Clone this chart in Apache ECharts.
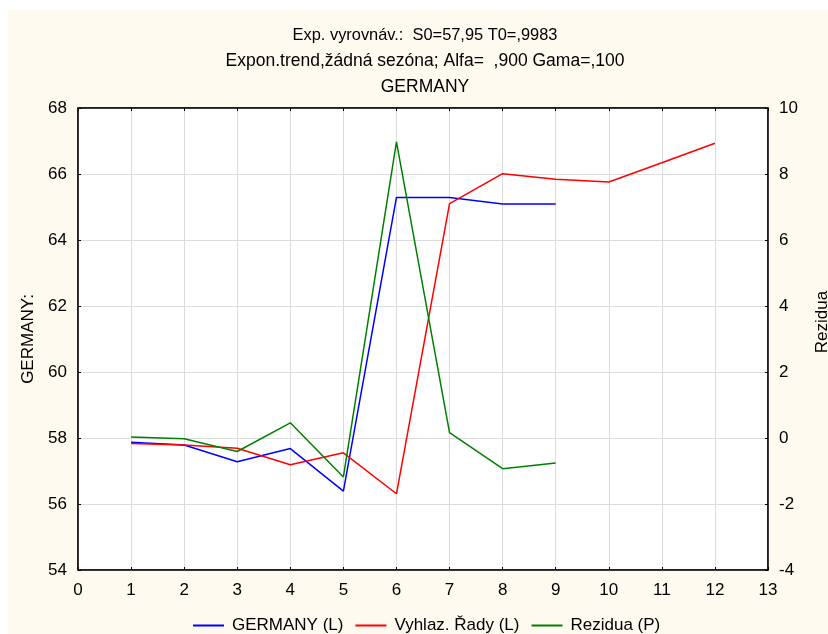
<!DOCTYPE html>
<html><head><meta charset="utf-8">
<script src="https://cdn.jsdelivr.net/npm/echarts@6/dist/echarts.min.js"></script>
<style>
html,body{margin:0;padding:0;background:#fff;}
#wrap{position:relative;width:828px;height:634px;background:#fff;}
#cream{position:absolute;left:8px;top:10px;width:820px;height:624px;background:#fefaf0;}
#chart{position:absolute;left:0;top:0;width:828px;height:634px;}
</style></head>
<body>
<div id="wrap"><div id="cream"></div><div id="chart"></div></div>
<script>
const xGermany = [1,2,3,4,5,6,7,8,9];
const germany = [57.87,57.79,57.28,57.68,56.39,65.29,65.29,65.09,65.09];
const xSmoothed = [1,2,3,4,5,6,7,8,9,10,11,12];
const smoothed = [57.83,57.79,57.69,57.19,57.55,56.31,65.10,66.01,65.84,65.76,66.34,66.93];
const xResid = [1,2,3,4,5,6,7,8,9];
const residuals = [0.03,-0.02,-0.41,0.46,-1.18,8.97,0.16,-0.93,-0.76];
const seriesNames = ['GERMANY (L)','Vyhlaz. Řady (L)','Rezidua (P)'];
const titleLines = ['Exp. vyrovnáv.:  S0=57,95 T0=,9983','Expon.trend,žádná sezóna; Alfa=  ,900 Gama=,100','GERMANY'];

const pairs = (xs, ys) => xs.map((x,i)=>[x, ys[i]]);
const font = 'Liberation Sans, Arial, sans-serif';
const FS = 17;
const chart = echarts.init(document.getElementById('chart'), null, {renderer:'canvas'});
const lineStyleBase = {width:1.5};
chart.setOption({
  backgroundColor: 'transparent',
  animation: false,
  title: {
    text: '{a|' + titleLines[0] + '}\n{b|' + titleLines[1] + '}\n{c|' + titleLines[2] + '}',
    left: 420, textAlign: 'center', top: 18,
    textStyle: {fontFamily: font, fontSize: 16.5, fontWeight: 'normal', color: '#000', lineHeight: 25.5,
      rich: {
        a: {fontFamily: font, fontSize: 16.4, color: '#000', lineHeight: 25.5},
        b: {fontFamily: font, fontSize: 17.5, color: '#000', lineHeight: 25.5},
        c: {fontFamily: font, fontSize: 17.5, color: '#000', lineHeight: 25.5}
      }}
  },
  grid: {left: 78, right: 60, top: 108, bottom: 64, show: true, backgroundColor: '#fff', borderColor: '#000', borderWidth: 1, outerBoundsMode: 'none', containLabel: false},
  legend: {
    top: 612, left: 188, itemWidth: 31, itemHeight: 2, itemGap: 12, icon: 'rect',
    textStyle: {fontFamily: font, fontSize: FS, color: '#000', padding: [0,0,0,3]},
    data: seriesNames
  },
  xAxis: [{
    type: 'value', min: 0, max: 13, interval: 1, position: 'bottom',
    axisLine: {show: true, onZero: false, lineStyle: {color: '#000', width: 1.5}},
    axisTick: {show: true, inside: true, length: 3, lineStyle: {color: '#000'}},
    axisLabel: {fontFamily: font, fontSize: FS, color: '#000', margin: 12},
    splitLine: {show: true, lineStyle: {color: '#dcdcdc', width: 1}}
  },{
    type: 'value', min: 0, max: 13, interval: 1, position: 'top',
    axisLine: {show: true, onZero: false, lineStyle: {color: '#000', width: 1.5}},
    axisTick: {show: true, inside: true, length: 3, lineStyle: {color: '#000'}},
    axisLabel: {show: false}, splitLine: {show: false}
  }],
  yAxis: [{
    type: 'value', min: 54, max: 68, interval: 2, position: 'left',
    name: 'GERMANY:', nameLocation: 'middle', nameGap: 40, nameRotate: 90,
    nameTextStyle: {fontFamily: font, fontSize: FS, color: '#000'},
    axisLine: {show: true, onZero: false, lineStyle: {color: '#000', width: 1.5}},
    axisTick: {show: true, inside: true, length: 3, lineStyle: {color: '#000'}},
    axisLabel: {fontFamily: font, fontSize: FS, color: '#000', margin: 11},
    splitLine: {show: true, lineStyle: {color: '#dcdcdc', width: 1}}
  },{
    type: 'value', min: -4, max: 10, interval: 2, position: 'right',
    name: 'Rezidua', nameLocation: 'middle', nameGap: 46, nameRotate: 90,
    nameTextStyle: {fontFamily: font, fontSize: FS, color: '#000', padding: [0,0,40,34]},
    axisLine: {show: true, onZero: false, lineStyle: {color: '#000', width: 1.5}},
    axisTick: {show: true, inside: true, length: 3, lineStyle: {color: '#000'}},
    axisLabel: {fontFamily: font, fontSize: FS, color: '#000', margin: 11},
    splitLine: {show: false}
  }],
  series: [
    {name: seriesNames[0], type: 'line', xAxisIndex: 0, yAxisIndex: 0, data: pairs(xGermany, germany),
     showSymbol: false, symbol: 'none', color: '#0000ff', lineStyle: Object.assign({}, lineStyleBase, {color: '#0000ff'})},
    {name: seriesNames[1], type: 'line', xAxisIndex: 0, yAxisIndex: 0, data: pairs(xSmoothed, smoothed),
     showSymbol: false, symbol: 'none', color: '#ff0000', lineStyle: Object.assign({}, lineStyleBase, {color: '#ff0000'})},
    {name: seriesNames[2], type: 'line', xAxisIndex: 0, yAxisIndex: 1, data: pairs(xResid, residuals),
     showSymbol: false, symbol: 'none', color: '#008000', lineStyle: Object.assign({}, lineStyleBase, {color: '#008000'})}
  ]
});
</script>
</body></html>
